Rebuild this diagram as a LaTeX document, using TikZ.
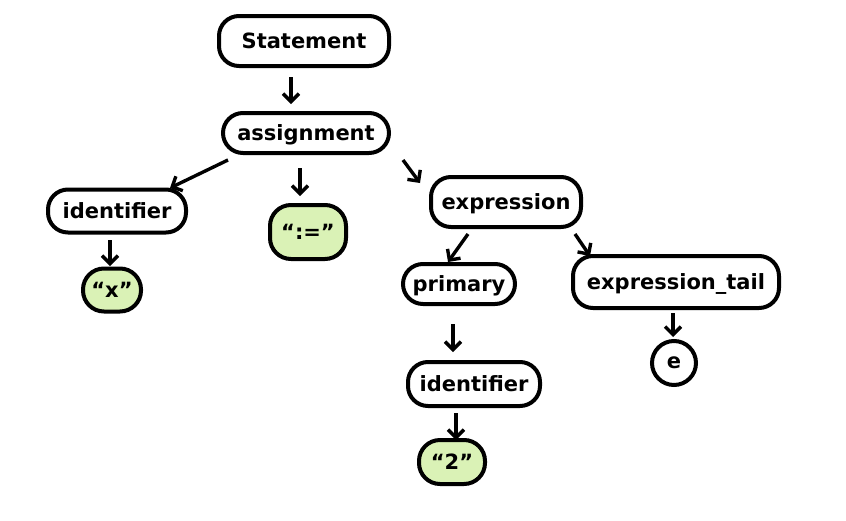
\documentclass[tikz,border=0pt]{standalone}
\usepackage{fontspec}
\setmainfont{DejaVu Sans}
\usetikzlibrary{arrows.meta,shapes.misc}
\definecolor{leaf}{RGB}{218,242,182}
\tikzset{
  x=1pt, y=-1pt,
  nt/.style={draw=black, line width=4pt, rounded corners=20pt, inner sep=0pt,
    font=\fontsize{21}{25}\bfseries\selectfont, text depth=0pt},
  lf/.style={nt, fill=leaf, rounded corners=21pt},
  eps/.style={draw=black, line width=4pt, circle, inner sep=0pt, minimum size=44pt,
    font=\fontsize{21}{25}\bfseries\selectfont},
  edge/.style={line width=3.4pt, -{Straight Barb[length=8pt,width=16pt,line width=3.4pt]}}
}
\begin{document}
\begin{tikzpicture}
\useasboundingbox (0,0) rectangle (846,520);
\node[nt, minimum width=170pt, minimum height=50pt] (stmt) at (304,41) {Statement};
\node[nt, minimum width=166pt, minimum height=40pt] (asg) at (306,133) {assignment};
\node[nt, minimum width=138pt, minimum height=43pt] (id1) at (117,211) {identifier};
\node[lf, minimum width=76pt, minimum height=54pt] (assignop) at (308,232) {“:=”};
\node[lf, minimum width=58pt, minimum height=43pt] (xlit) at (112,290) {“x”};
\node[nt, minimum width=150pt, minimum height=50pt] (expr) at (506,202) {expression};
\node[nt, minimum width=112pt, minimum height=40pt] (prim) at (459,284) {primary};
\node[nt, minimum width=206pt, minimum height=52pt] (tail) at (676,282) {expression\_tail};
\node[nt, minimum width=132pt, minimum height=44pt] (id2) at (474,384) {identifier};
\node[lf, minimum width=66pt, minimum height=44pt] (twolit) at (452,462) {“2”};
\node[eps] (e) at (674,363) {e};

\coordinate (a1s) at (291,77); \coordinate (a1e) at (291,104);
\draw[edge] (a1s) -- (a1e);
\coordinate (a2s) at (228,160); \coordinate (a2e) at (170,188);
\draw[edge] (a2s) -- (a2e);
\coordinate (a3s) at (300,168); \coordinate (a3e) at (300,196);
\draw[edge] (a3s) -- (a3e);
\coordinate (a4s) at (403,160); \coordinate (a4e) at (420,183);
\draw[edge] (a4s) -- (a4e);
\coordinate (a5s) at (110,240); \coordinate (a5e) at (110,266);
\draw[edge] (a5s) -- (a5e);
\coordinate (a6s) at (468,234); \coordinate (a6e) at (448,262);
\draw[edge] (a6s) -- (a6e);
\coordinate (a7s) at (575,234); \coordinate (a7e) at (590,256);
\draw[edge] (a7s) -- (a7e);
\coordinate (a8s) at (453,324); \coordinate (a8e) at (453,352);
\draw[edge] (a8s) -- (a8e);
\coordinate (a9s) at (456,413); \coordinate (a9e) at (456,440);
\draw[edge] (a9s) -- (a9e);
\coordinate (a10s) at (673,313); \coordinate (a10e) at (673,337);
\draw[edge] (a10s) -- (a10e);
\end{tikzpicture}
\end{document}
